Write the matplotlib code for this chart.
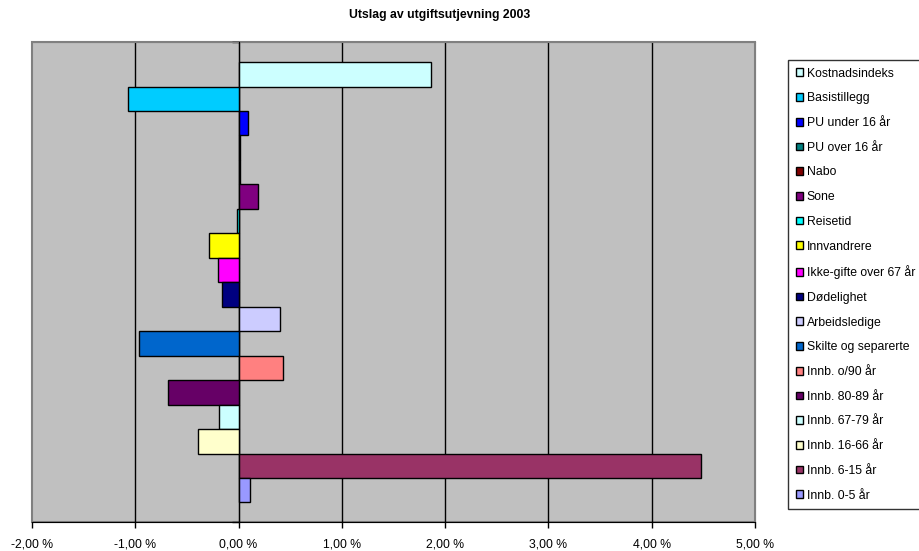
import matplotlib
matplotlib.use("Agg")
import matplotlib.pyplot as plt
from matplotlib.patches import Rectangle

plt.rcParams['font.family'] = ['Liberation Sans', 'DejaVu Sans']

# kategorier (serier) i rekkefølge ovenfra og ned
kategorier = ["Kostnadsindeks", "Basistillegg", "PU under 16 år", "PU over 16 år",
              "Nabo", "Sone", "Reisetid", "Innvandrere", "Ikke-gifte over 67 år",
              "Dødelighet", "Arbeidsledige", "Skilte og separerte", "Innb. o/90 år",
              "Innb. 80-89 år", "Innb. 67-79 år", "Innb. 16-66 år", "Innb. 6-15 år",
              "Innb. 0-5 år"]

# utslag i prosent
verdier = [1.86, -1.07, 0.093, 0.012, 0.015, 0.187, -0.015, -0.29, -0.20,
           -0.16, 0.40, -0.96, 0.435, -0.68, -0.19, -0.39, 4.48, 0.11]

farger = ["#CCFFFF", "#00CCFF", "#0000FF", "#008080", "#800000", "#800080",
          "#00FFFF", "#FFFF00", "#FF00FF", "#000080", "#CCCCFF", "#0066CC",
          "#FF8080", "#660066", "#CCFFFF", "#FFFFCC", "#993366", "#9999FF"]

x_ticks = [-2, -1, 0, 1, 2, 3, 4, 5]

fig = plt.figure(figsize=(9.19, 5.51), dpi=100)
ax = fig.add_axes([0.0348, 0.0526, 0.7867, 0.8703])
ax.set_facecolor("#C0C0C0")

for i, (navn, v, f) in enumerate(zip(kategorier, verdier, farger)):
    ax.barh(i, v, height=1.0, color=f, edgecolor="black", linewidth=1.0,
            label=navn, zorder=3)

ax.set_xlim(-2, 5)
ax.set_ylim(len(kategorier) - 0.5 + 0.8, -0.5 - 0.8)

ax.set_xticks(x_ticks)
ax.set_xticklabels([f"{t:.2f} %".replace(".", ",") for t in x_ticks], fontsize=8.8)
ax.tick_params(axis="x", direction="out", length=4, width=1, pad=8)
ax.xaxis.grid(True, color="black", linewidth=1.0, zorder=1)
ax.get_xgridlines()[0].set_visible(False)
ax.get_xgridlines()[-1].set_visible(False)

# kategoriakse ved 0
ax.spines["left"].set_position(("data", 0))
ax.spines["left"].set_zorder(4)
ax.set_yticks(list(ax.get_ylim()))
ax.set_yticklabels([])
ax.tick_params(axis="y", direction="out", length=5, width=1)

for s in ["top", "right"]:
    ax.spines[s].set_color("#808080")
ax.spines["bottom"].set_color("black")
ax.add_patch(Rectangle((0, 0), 1, 1, transform=ax.transAxes, fill=False,
                       edgecolor="#808080", linewidth=1.5, zorder=0, clip_on=False))

fig.suptitle("Utslag av utgiftsutjevning 2003", x=0.478, y=0.983,
             fontsize=8.8, fontweight="bold")

leg = ax.legend(loc="upper left", bbox_to_anchor=(1.046, 0.963), fontsize=8.8,
                frameon=True, fancybox=False, edgecolor="black",
                handlelength=0.6, handleheight=0.6, handletextpad=0.3,
                labelspacing=1.04, borderpad=0.6, borderaxespad=0)
leg.get_frame().set_linewidth(1.0)

fig.savefig("out.png", dpi=100)
